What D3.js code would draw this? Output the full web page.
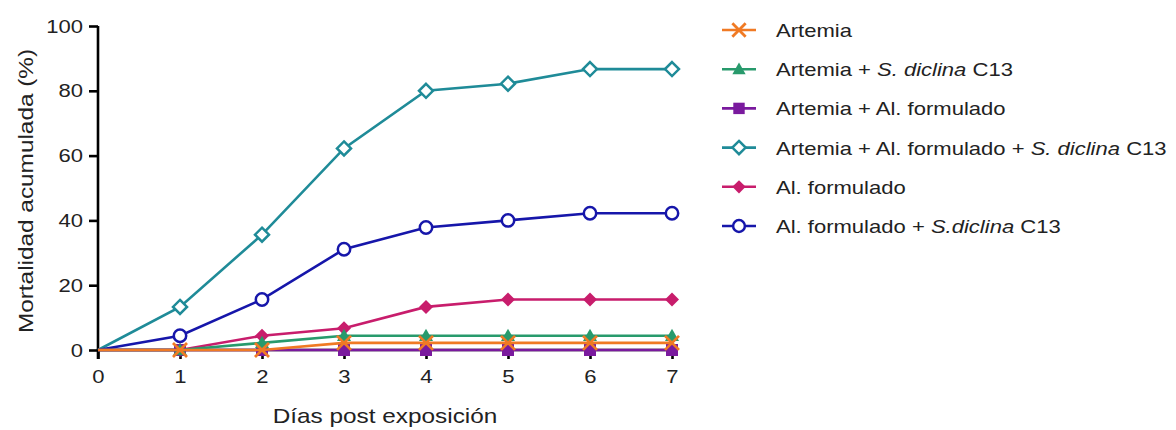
<!DOCTYPE html>
<html>
<head>
<meta charset="utf-8">
<script src="https://cdn.jsdelivr.net/npm/d3@7"></script>
<style>
  html, body { margin: 0; padding: 0; background: #fff; }
  svg { display: block; font-family: "Liberation Sans", Arial, sans-serif; }
</style>
</head>
<body>
<svg id="chart" width="1176" height="430"></svg>
<script>
// Days after exposure
const days = [0, 1, 2, 3, 4, 5, 6, 7];

// Cumulative mortality (%) per treatment
const artemia            = [0, 0, 0, 2.2, 2.2, 2.2, 2.2, 2.2];
const artemiaDiclina     = [0, 0, 2.2, 4.4, 4.4, 4.4, 4.4, 4.4];
const artemiaAlimento    = [0, 0, 0, 0, 0, 0, 0, 0];
const artemiaAlimDiclina = [0, 13.3, 35.6, 62.2, 80.0, 82.2, 86.7, 86.7];
const alimento           = [0, 0, 4.4, 6.7, 13.3, 15.6, 15.6, 15.6];
const alimentoDiclina    = [0, 4.4, 15.6, 31.1, 37.8, 40.0, 42.2, 42.2];

const yTicks = [0, 20, 40, 60, 80, 100];

// Series definitions (legend order)
const series = [
  { key: "artemia", values: artemia, color: "#f07a24", marker: "x",
    label: [["Artemia", false]] },
  { key: "artDic", values: artemiaDiclina, color: "#289a6c", marker: "triangle",
    label: [["Artemia + ", false], ["S. diclina", true], [" C13", false]] },
  { key: "artAl", values: artemiaAlimento, color: "#7a1a9e", marker: "square",
    label: [["Artemia + Al. formulado", false]] },
  { key: "artAlDic", values: artemiaAlimDiclina, color: "#1f8b98", marker: "diamondOpen",
    label: [["Artemia + Al. formulado + ", false], ["S. diclina", true], [" C13", false]] },
  { key: "al", values: alimento, color: "#c81d6c", marker: "diamond",
    label: [["Al. formulado", false]] },
  { key: "alDic", values: alimentoDiclina, color: "#1616aa", marker: "circleOpen",
    label: [["Al. formulado + ", false], ["S.diclina", true], [" C13", false]] }
];

// Drawing order: low series last so their markers stay visible
const drawOrder = ["artAlDic", "alDic", "al", "artAl", "artDic", "artemia"];

// Horizontal stretch applied to text (wide sans look)
const TX = 1.16;

const svg = d3.select("#chart");

const x = d3.scaleLinear().domain([0, 7]).range([98, 672]);
const y = d3.scaleLinear().domain([0, 100]).range([350, 26]);

// Axes
const xAxis = svg.append("g")
  .attr("transform", `translate(0,${y(0)})`)
  .call(d3.axisBottom(x).tickValues(days).tickFormat(d3.format("d")).tickSize(9).tickPadding(11));
const yAxis = svg.append("g")
  .attr("transform", `translate(${x(0)},0)`)
  .call(d3.axisLeft(y).tickValues(yTicks).tickSize(9).tickPadding(6));

[xAxis, yAxis].forEach(a => {
  a.select(".domain").attr("stroke", "#000").attr("stroke-width", 2.6);
  a.selectAll(".tick line").attr("stroke", "#000").attr("stroke-width", 2.6);
  a.selectAll(".tick text").attr("fill", "#222").style("font-size", "19px")
    .style("font-family", "'Liberation Sans', Arial, sans-serif");
});
xAxis.selectAll(".tick text").attr("transform", `scale(${TX},1)`);
yAxis.selectAll(".tick text")
  .attr("x", -15 / TX)
  .attr("transform", `scale(${TX},1)`);

// Close the corner between the two axis lines
xAxis.select(".domain").attr("d", `M${x(0) - 1.3},0H${x(7)}`);
yAxis.select(".domain").attr("d", `M0,${y(100)}V${y(0) + 9}`);

// Axis titles
svg.append("text")
  .attr("transform", `translate(385,423) scale(${TX},1)`)
  .attr("text-anchor", "middle")
  .attr("fill", "#222")
  .style("font-size", "21px")
  .text("Días post exposición");

svg.append("text")
  .attr("transform", `translate(33,${(y(0) + y(100)) / 2 + 3}) rotate(-90) scale(${TX},1)`)
  .attr("text-anchor", "middle")
  .attr("fill", "#222")
  .style("font-size", "21px")
  .text("Mortalidad acumulada (%)");

// Marker drawing helper
function drawMarker(g, type, color, cx, cy, scale) {
  const s = scale || 1;
  if (type === "x") {
    const r = 7 * s;
    g.append("path")
      .attr("d", `M${cx - r},${cy - r}L${cx + r},${cy + r}M${cx - r},${cy + r}L${cx + r},${cy - r}`)
      .attr("stroke", color).attr("stroke-width", 2.8).attr("fill", "none");
  } else if (type === "triangle") {
    const r = 7 * s;
    g.append("path")
      .attr("d", `M${cx},${cy - r}L${cx + r},${cy + r * 0.75}L${cx - r},${cy + r * 0.75}Z`)
      .attr("fill", color);
  } else if (type === "square") {
    const r = 6 * s;
    g.append("rect")
      .attr("x", cx - r).attr("y", cy - r).attr("width", 2 * r).attr("height", 2 * r)
      .attr("fill", color);
  } else if (type === "diamond") {
    const r = 7 * s;
    g.append("path")
      .attr("d", `M${cx},${cy - r}L${cx + r},${cy}L${cx},${cy + r}L${cx - r},${cy}Z`)
      .attr("fill", color);
  } else if (type === "diamondOpen") {
    const r = 7 * s;
    g.append("path")
      .attr("d", `M${cx},${cy - r}L${cx + r},${cy}L${cx},${cy + r}L${cx - r},${cy}Z`)
      .attr("fill", "#fff").attr("stroke", color).attr("stroke-width", 2.5);
  } else if (type === "circleOpen") {
    g.append("circle")
      .attr("cx", cx).attr("cy", cy).attr("r", 6.2 * s)
      .attr("fill", "#fff").attr("stroke", color).attr("stroke-width", 2.5);
  }
}

const line = d3.line().x((d, i) => x(days[i])).y(d => y(d));

const plot = svg.append("g");
drawOrder.forEach(k => {
  const s = series.find(d => d.key === k);
  const g = plot.append("g");
  g.append("path")
    .datum(s.values)
    .attr("d", line)
    .attr("fill", "none")
    .attr("stroke", s.color)
    .attr("stroke-width", 2.6);
  s.values.forEach((v, i) => {
    if (i === 0) return;
    drawMarker(g, s.marker, s.color, x(days[i]), y(v));
  });
});

// Legend
const legend = svg.append("g");
series.forEach((s, i) => {
  const ly = 30 + i * 39.2;
  const g = legend.append("g");
  g.append("line")
    .attr("x1", 722).attr("x2", 756).attr("y1", ly).attr("y2", ly)
    .attr("stroke", s.color).attr("stroke-width", 2.6);
  drawMarker(g, s.marker, s.color, 739, ly, 0.95);
  const t = g.append("text")
    .attr("transform", `translate(776,${ly + 7}) scale(${TX},1)`)
    .attr("fill", "#222")
    .style("font-size", "19px");
  s.label.forEach(([txt, it]) => {
    t.append("tspan").style("font-style", it ? "italic" : "normal").text(txt);
  });
});
</script>
</body>
</html>
